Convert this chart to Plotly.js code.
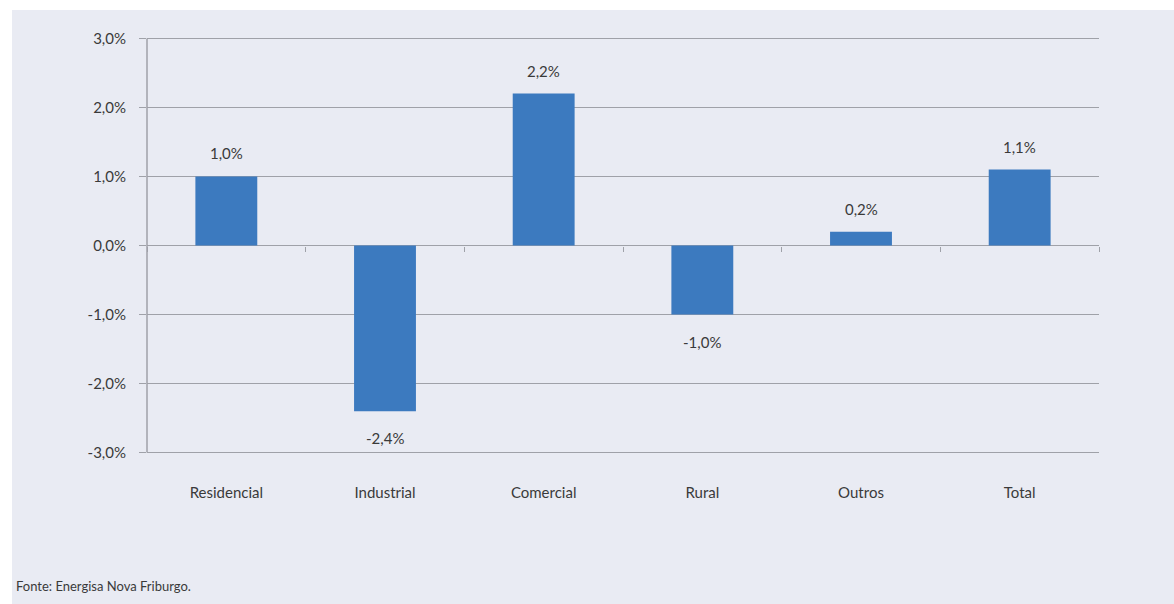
<!DOCTYPE html>
<html>
<head>
<meta charset="utf-8">
<script src="https://cdn.plot.ly/plotly-3.0.1.min.js"></script>
<style>
  html, body { margin: 0; padding: 0; background: #ffffff; }
  #chart { position: absolute; left: 12px; top: 10px; width: 1162px; height: 594px; }
</style>
</head>
<body>
<div id="chart"></div>
<script>
const categories = ["Residencial", "Industrial", "Comercial", "Rural", "Outros", "Total"];
const values = [0.010, -0.024, 0.022, -0.010, 0.002, 0.011];
const labels = ["1,0%", "-2,4%", "2,2%", "-1,0%", "0,2%", "1,1%"];
const yTickVals = [-0.03, -0.02, -0.01, 0, 0.01, 0.02, 0.03];
const yTickText = ["-3,0%", "-2,0%", "-1,0%", "0,0%", "1,0%", "2,0%", "3,0%"];
const sourceNote = "Fonte: Energisa Nova Friburgo.";

const textColor = "#3a3a3a";
const fontFam = "Lato, 'Open Sans', sans-serif";
const gridCol = "#9fa1a8";

const trace = {
  type: "bar",
  x: categories,
  y: values,
  marker: { color: "#3c7abf", line: { width: 0 } },
  width: 0.39,
  hoverinfo: "skip"
};

// boundary ticks along the zero line
const tickTrace = {
  type: "scatter",
  x: categories,
  y: values.map(() => null),
  xaxis: "x2",
  yaxis: "y",
  showlegend: false,
  hoverinfo: "skip"
};

const annotations = categories.map((c, i) => ({
  x: c, y: values[i], xref: "x", yref: "y",
  text: labels[i], showarrow: false,
  yanchor: values[i] >= 0 ? "bottom" : "top",
  yshift: values[i] >= 0 ? 12 : -16,
  font: { family: fontFam, size: 15, color: textColor }
}));
annotations.push({
  x: 0, y: 0, xref: "paper", yref: "paper",
  xanchor: "left", yanchor: "bottom",
  xshift: -133, yshift: -142,
  text: sourceNote, showarrow: false,
  font: { family: fontFam, size: 13, color: textColor }
});

const layout = {
  width: 1162, height: 594,
  margin: { l: 135, r: 75, t: 27, b: 150 },
  paper_bgcolor: "#e9ebf3",
  plot_bgcolor: "#e9ebf3",
  showlegend: false,
  bargap: 0.61,
  font: { family: fontFam, size: 15, color: textColor },
  xaxis: {
    type: "category",
    showgrid: false, zeroline: false,
    showline: false,
    ticks: "",
    tickfont: { family: fontFam, size: 15, color: textColor },
    ticklabelstandoff: 28,
    fixedrange: true
  },
  xaxis2: {
    type: "category",
    overlaying: "x",
    matches: "x",
    anchor: "free",
    position: 0.5,
    side: "bottom",
    showgrid: false, zeroline: false,
    showline: false,
    showticklabels: false,
    ticks: "outside", ticklen: 5, tickwidth: 1, tickcolor: gridCol,
    tickson: "boundaries",
    fixedrange: true
  },
  yaxis: {
    range: [-0.0302, 0.0302],
    tickvals: yTickVals,
    ticktext: yTickText,
    showgrid: true, gridcolor: gridCol, gridwidth: 1.5,
    zeroline: true, zerolinecolor: gridCol, zerolinewidth: 1.5,
    showline: false,
    ticks: "outside", ticklen: 7, tickcolor: gridCol, tickwidth: 1.5,
    tickfont: { family: fontFam, size: 15, color: textColor },
    ticklabelstandoff: 10,
    fixedrange: true
  },
  shapes: [{
    type: "line", xref: "paper", yref: "y",
    x0: 0, x1: 0, y0: yTickVals[0], y1: yTickVals[yTickVals.length - 1],
    line: { color: gridCol, width: 1.5 }
  }],
  annotations: annotations
};

Plotly.newPlot("chart", [trace, tickTrace], layout, { displayModeBar: false, staticPlot: true });
</script>
</body>
</html>
